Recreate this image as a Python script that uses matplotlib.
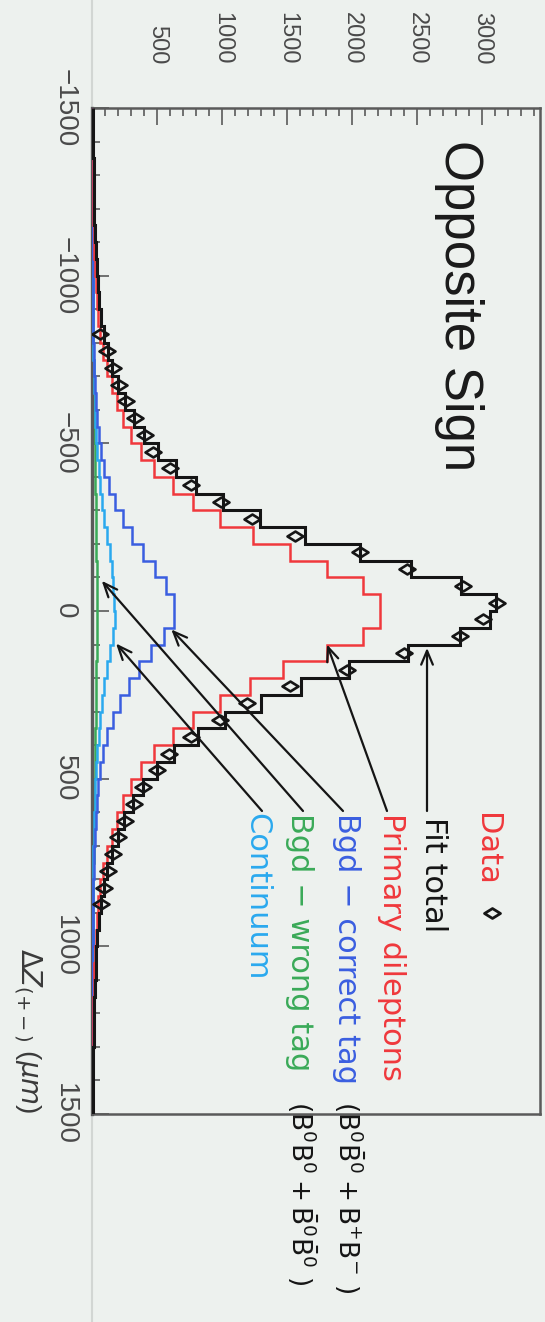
import numpy as np
import matplotlib
matplotlib.use("Agg")
import matplotlib.pyplot as plt
from matplotlib.path import Path
from matplotlib.lines import Line2D
from matplotlib.ticker import MultipleLocator

plt.rcParams['font.family'] = ['Liberation Sans', 'DejaVu Sans']
plt.rcParams['mathtext.fontset'] = 'dejavusans'

# ---- binning: 50 um bins over the full delta-z range ----
dz_edges = np.arange(-1500, 1501, 50)

# ---- fitted components per bin (events / 50 um) ----
primary = [3, 4, 5, 6, 7, 8, 10, 13, 16, 21,
           27, 36, 48, 65, 88, 115, 150, 190, 240, 300,
           380, 480, 623, 777, 985, 1240, 1523, 1808, 2085, 2215,
           2215, 2085, 1808, 1470, 1215, 985, 777, 623, 480, 380,
           300, 240, 190, 150, 115, 88, 65, 48, 36, 27,
           21, 16, 13, 10, 8, 7, 6, 5, 4, 3]
bgd_correct = [1, 1, 1, 1, 2, 2, 2, 3, 3, 4,
               5, 6, 8, 10, 13, 17, 22, 29, 38, 52,
               70, 95, 130, 175, 240, 310, 395, 485, 570, 630,
               630, 550, 455, 360, 285, 215, 162, 118, 88, 64,
               48, 36, 27, 21, 16, 12, 9, 7, 5, 4,
               3, 3, 2, 2, 2, 1, 1, 1, 1, 1]
continuum = [1, 1, 1, 2, 2, 2, 3, 3, 4, 4,
             5, 6, 7, 8, 10, 13, 16, 20, 25, 32,
             40, 50, 62, 78, 95, 115, 135, 152, 165, 172,
             178, 165, 142, 118, 96, 78, 62, 50, 40, 32,
             25, 20, 16, 13, 10, 8, 7, 6, 5, 4,
             4, 3, 3, 2, 2, 2, 1, 1, 1, 1]
bgd_wrong = [2, 2, 3, 3, 3, 4, 4, 5, 5, 6,
             7, 8, 9, 10, 11, 12, 14, 15, 17, 19,
             21, 23, 25, 27, 29, 31, 33, 35, 37, 38,
             38, 37, 35, 33, 31, 29, 27, 25, 23, 21,
             19, 17, 15, 14, 12, 11, 10, 9, 8, 7,
             6, 5, 5, 4, 4, 3, 3, 3, 2, 2]
fit_total = [7, 8, 10, 12, 14, 16, 19, 24, 28, 35,
             44, 56, 72, 93, 122, 157, 202, 254, 320, 403,
             511, 648, 800, 1010, 1290, 1640, 2060, 2450, 2840, 3110,
             3060, 2830, 2430, 1980, 1610, 1300, 1025, 815, 630, 497,
             392, 313, 248, 198, 153, 119, 91, 70, 54, 42,
             34, 27, 23, 18, 16, 13, 11, 10, 8, 7]

# ---- measured opposite-sign dilepton data ----
data_dz = [-825, -775, -725, -675, -625, -575, -525, -475, -425, -375,
           -325, -275, -225, -175, -125, -75, -25, 25, 75, 125,
           175, 225, 275, 325, 375, 425, 475, 525, 575, 625,
           675, 725, 775, 825, 875]
data_counts = [62, 118, 158, 205, 262, 330, 405, 470, 600, 760,
               990, 1230, 1560, 2060, 2420, 2850, 3115, 3010, 2830, 2400,
               1960, 1525, 1195, 985, 760, 595, 500, 395, 320, 255,
               200, 160, 125, 95, 68]

count_ticks = [500, 1000, 1500, 2000, 2500, 3000]
count_ticklabels = ['500', '1000', '1500', '2000', '2500', '3000']
dz_ticks = [-1500, -1000, -500, 0, 500, 1000, 1500]
dz_ticklabels = ['\u22121500', '\u22121000', '\u2212500', '0', '500', '1000', '1500']

# ---- colours ----
BG = '#edf1ee'
RED = '#f0383c'
BLUE = '#3a5ee0'
LBLUE = '#2aa9ee'
GREEN = '#3aaa58'
BLACK = '#151515'
FRAME = '#5a5a5a'

W, H = 545, 1322
fig = plt.figure(figsize=(W / 100, H / 100), dpi=100, facecolor=BG)


def fpx(x, y):
    """pixel position on the canvas (from top-left) -> figure fraction"""
    return (x / W, 1 - y / H)


# faint pad border running along the zero-count edge
fig.add_artist(Line2D([92 / W, 92 / W], [0, 1], transform=fig.transFigure,
                      color='#d2d6d3', lw=1.5, zorder=0))

ax = fig.add_axes([92 / W, 1 - 1114 / H, 448 / W, 1006 / H], facecolor=BG)

# histograms drawn sideways: counts along x, delta-z along y
ax.stairs(bgd_wrong, dz_edges, orientation='horizontal', baseline=None,
          color=GREEN, lw=1.8, zorder=2)
ax.stairs(continuum, dz_edges, orientation='horizontal', baseline=None,
          color=LBLUE, lw=1.8, zorder=3)
ax.stairs(bgd_correct, dz_edges, orientation='horizontal', baseline=None,
          color=BLUE, lw=1.8, zorder=4)
ax.stairs(primary, dz_edges, orientation='horizontal', baseline=None,
          color=RED, lw=1.8, zorder=5)
ax.stairs(fit_total, dz_edges, orientation='horizontal', baseline=None,
          color=BLACK, lw=2.2, zorder=6)

diamond = Path([(-1, 0), (0, 0.62), (1, 0), (0, -0.62), (-1, 0)],
               [Path.MOVETO, Path.LINETO, Path.LINETO, Path.LINETO, Path.CLOSEPOLY])
ax.plot(data_counts, data_dz, ls='none', marker=diamond, markersize=11.5,
        markerfacecolor='none', markeredgecolor=BLACK, markeredgewidth=1.9,
        zorder=7)

ax.set_xlim(0, 3446)
ax.set_ylim(1500, -1500)

ax.xaxis.set_ticks_position('top')
ax.set_xticks(count_ticks)
ax.set_xticklabels(count_ticklabels)
ax.xaxis.set_minor_locator(MultipleLocator(100))
ax.set_yticks(dz_ticks)
ax.set_yticklabels(dz_ticklabels)
ax.yaxis.set_minor_locator(MultipleLocator(100))

ax.tick_params(which='both', direction='in', color=FRAME, width=1.2)
ax.tick_params(which='major', length=12)
ax.tick_params(which='minor', length=6)
ax.tick_params(axis='x', which='major', pad=31.5, labelsize=17,
               labelcolor='#4a4a4a')
ax.tick_params(axis='y', which='major', pad=24.5, labelsize=20,
               labelcolor='#4a4a4a')
for lab in ax.get_xticklabels():
    lab.set(rotation=-90, rotation_mode='anchor', ha='right', va='center')
for lab in ax.get_yticklabels():
    lab.set(rotation=-90, rotation_mode='anchor', ha='center', va='baseline')

for sp in ax.spines.values():
    sp.set_color(FRAME)
    sp.set_linewidth(1.8)
ax.spines['left'].set_linewidth(2.4)

# title
fig.text(*fpx(445, 140), 'Opposite Sign', rotation=-90, rotation_mode='anchor',
         ha='left', va='baseline', fontsize=38, color='#1a1a1a')

# axis title
fig.text(*fpx(28, 1113), r'$\Delta Z_{(+-)}$ ($\mu m$)', rotation=-90,
         rotation_mode='anchor', ha='right', va='center', fontsize=20,
         color='#3a3a3a')

# legend labels
leg_kw = dict(rotation=-90, rotation_mode='anchor', ha='left', va='baseline',
              fontsize=22, family='DejaVu Sans')
fig.text(*fpx(478, 813), 'Data', color=RED, **leg_kw)
fig.add_artist(Line2D([492 / W], [1 - 913 / H], transform=fig.transFigure,
                      ls='none', marker=diamond, markersize=11.5,
                      markerfacecolor='none', markeredgecolor=BLACK,
                      markeredgewidth=2.0))
fig.text(*fpx(425, 817), 'Fit total', color=BLACK, **leg_kw)
fig.text(*fpx(383, 813), 'Primary dileptons', color=RED, **leg_kw)
fig.text(*fpx(338, 813), 'Bgd \u2212 correct tag', color=BLUE, **leg_kw)
sub_kw = dict(leg_kw, fontsize=19)
fig.text(*fpx(338, 1101), r'$(\mathrm{B}^0\bar{\mathrm{B}}^0 + \mathrm{B}^{+}\mathrm{B}^{-}\ )$',
         color=BLACK, **sub_kw)
fig.text(*fpx(291, 813), 'Bgd \u2212 wrong tag', color=GREEN, **leg_kw)
fig.text(*fpx(291, 1101), r'$(\mathrm{B}^0\mathrm{B}^0 + \bar{\mathrm{B}}^0\bar{\mathrm{B}}^0\ )$',
         color=BLACK, **sub_kw)
fig.text(*fpx(248, 813), 'Continuum', color=LBLUE, **leg_kw)

# arrows from each label to its curve
arrow_kw = dict(arrowstyle='->,head_length=1.0,head_width=0.42', color=BLACK,
                lw=1.6, shrinkA=0, shrinkB=0)
arrows = [((2577, 110), (427, 811)),   # fit total
          ((1808, 100), (387, 811)),   # primary dileptons
          ((610, 55), (343, 811)),     # bgd correct tag
          ((75, -90), (303, 811)),     # bgd wrong tag
          ((185, 97), (262, 811))]     # continuum
for tip, start in arrows:
    ax.annotate('', xy=tip, xycoords='data', xytext=fpx(*start),
                textcoords='figure fraction', arrowprops=arrow_kw,
                annotation_clip=False, zorder=8)

fig.savefig('out.png', dpi=100, facecolor=BG)
